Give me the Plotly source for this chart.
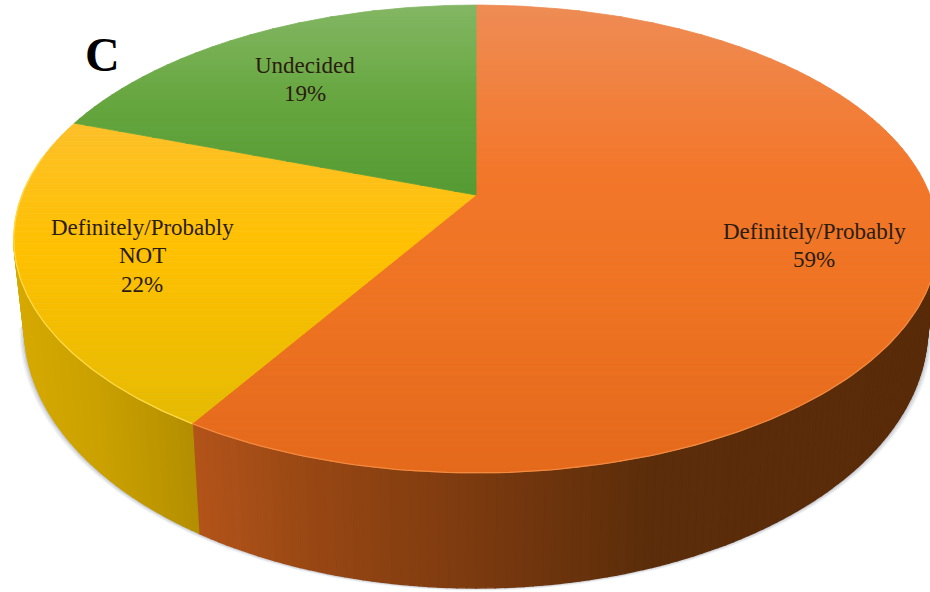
import numpy as np
import plotly.graph_objects as go

# ---- data ----
categories = [["Definitely/Probably"], ["Definitely/Probably", "NOT"], ["Undecided"]]
shares = [58.8, 21.7, 19.5]          # swept share of the disc, clockwise from 12 o'clock
share_labels = ["59%", "22%", "19%"]
panel_letter = "C"

# ---- styling ----
top_stops = [
    [(5, "#EE8C55"), (170, "#F3772B"), (300, "#EE7322"), (473, "#E4691B")],
    [(120, "#FDC02A"), (250, "#FFC000"), (430, "#E4BA00")],
    [(5, "#84B764"), (100, "#66A63F"), (200, "#549A33")],
]
wall_stops = [
    [(192, "#B3541A"), (300, "#9A4814"), (470, "#7C3A0F"), (650, "#5B2D0A"), (940, "#592B09")],
    [(15, "#D6A900"), (100, "#C9A000"), (199, "#B28D00")],
]
label_first_line = [(814, 231), (142, 227), (305, 65)]
LINE_STEP = 28.5

CX, CY, K, C, A = 476.0, 195.0, 454.0, 0.188, -189.0
WALL_FROM, WALL_TO = 100.0, 260.0


def project(theta_deg):
    t = np.radians(theta_deg)
    u, v = np.sin(t), np.cos(t)
    w = 1 + C * v
    return CX + K * u / w, (A * v + CY) / w


def lower(x, y):
    return 478 + (x - 478) * 0.977, 1.11 * y + 63


def hex2rgb(h):
    return np.array([int(h[i:i + 2], 16) for i in (1, 3, 5)], float)


def ramp(stops, p):
    ps = [s[0] for s in stops]
    cs = np.array([hex2rgb(s[1]) for s in stops])
    r = [np.interp(p, ps, cs[:, i]) for i in range(3)]
    return "rgb(%d,%d,%d)" % tuple(int(round(x)) for x in r)


def clip(points, y0, y1):
    def half(pts, keep, cross):
        out = []
        for i in range(len(pts)):
            a, b = pts[i], pts[(i + 1) % len(pts)]
            if keep(a):
                out.append(a)
            if keep(a) != keep(b):
                s = (cross - a[1]) / (b[1] - a[1])
                out.append((a[0] + s * (b[0] - a[0]), cross))
        return out
    p = half(points, lambda q: q[1] >= y0, y0)
    if not p:
        return p
    return half(p, lambda q: q[1] <= y1, y1)


def poly(xs, ys, color, width=0.8):
    return go.Scatter(x=list(xs) + [xs[0]], y=list(ys) + [ys[0]], mode="lines", fill="toself",
                      fillcolor=color, line=dict(color=color, width=width),
                      hoverinfo="skip", showlegend=False)


fig = go.Figure()

edges = np.concatenate([[0], np.cumsum(shares)]) / sum(shares) * 360

# soft shadow beneath the wall
arc = np.linspace(WALL_FROM, WALL_TO, 200)
ax, ay = project(arc)
bx, by = lower(ax, ay)
for grow, alpha in [(5, .10), (3.5, .14), (2, .2)]:
    sx = 478 + (bx - 478) * (1 + grow / 450)
    sy = by + grow * 0.55
    fig.add_trace(poly(sx, sy, "rgba(110,120,140,%.2f)" % alpha, width=0))

# wall
for i, stops in enumerate(wall_stops):
    lo, hi = max(edges[i], WALL_FROM), min(edges[i + 1], WALL_TO)
    grid = np.arange(lo, hi + 1.0, 1.0)
    grid[-1] = hi
    for a, b in zip(grid[:-1], grid[1:]):
        x0, y0 = project(a)
        x1, y1 = project(b)
        x2, y2 = lower(x1, y1)
        x3, y3 = lower(x0, y0)
        fig.add_trace(poly([x0, x1, x2, x3], [y0, y1, y2, y3], ramp(stops, (x0 + x1) / 2), width=1.4))

# top face, slice by slice, cut into horizontal bands for the vertical shading
band = 6
for i, stops in enumerate(top_stops):
    th = np.linspace(edges[i], edges[i + 1], 240)
    rx, ry = project(th)
    outline = [(CX, CY)] + list(zip(rx, ry))
    ymin, ymax = min(p[1] for p in outline), max(p[1] for p in outline)
    yy = ymin
    while yy < ymax:
        piece = clip(outline, yy, yy + band)
        if len(piece) > 2:
            xs, ys = zip(*piece)
            fig.add_trace(poly(xs, ys, ramp(stops, yy + band / 2)))
        yy += band

# light rim along the front edge
rim = ["#F28A3F", "#FFD94A"]
for i in range(2):
    th = np.linspace(edges[i], edges[i + 1], 200)
    rx, ry = project(th)
    mask = (th > WALL_FROM) & (th < WALL_TO + 20)
    fig.add_trace(go.Scatter(x=rx[mask], y=ry[mask], mode="lines",
                             line=dict(color=rim[i], width=1.3), hoverinfo="skip", showlegend=False))

for cat, pct, (lx, ly) in zip(categories, share_labels, label_first_line):
    for n, line in enumerate(cat + [pct]):
        fig.add_annotation(x=lx, y=ly + n * LINE_STEP, text=line, showarrow=False,
                           xanchor="center", yanchor="middle",
                           font=dict(family="Liberation Serif", size=23, color="#2A1C10"))
fig.add_annotation(x=102, y=54, text=f"<b>{panel_letter}</b>", showarrow=False,
                   font=dict(family="Liberation Serif", size=48, color="#000000"))

fig.update_xaxes(range=[0, 930], visible=False, fixedrange=True)
fig.update_yaxes(range=[592, 0], visible=False, fixedrange=True)
fig.update_layout(width=930, height=592, margin=dict(l=0, r=0, t=0, b=0),
                  plot_bgcolor="white", paper_bgcolor="white", showlegend=False)
fig.write_html("out.html", config={"displayModeBar": False},
               post_script="document.body.style.margin='0';document.documentElement.style.overflow='hidden';")
